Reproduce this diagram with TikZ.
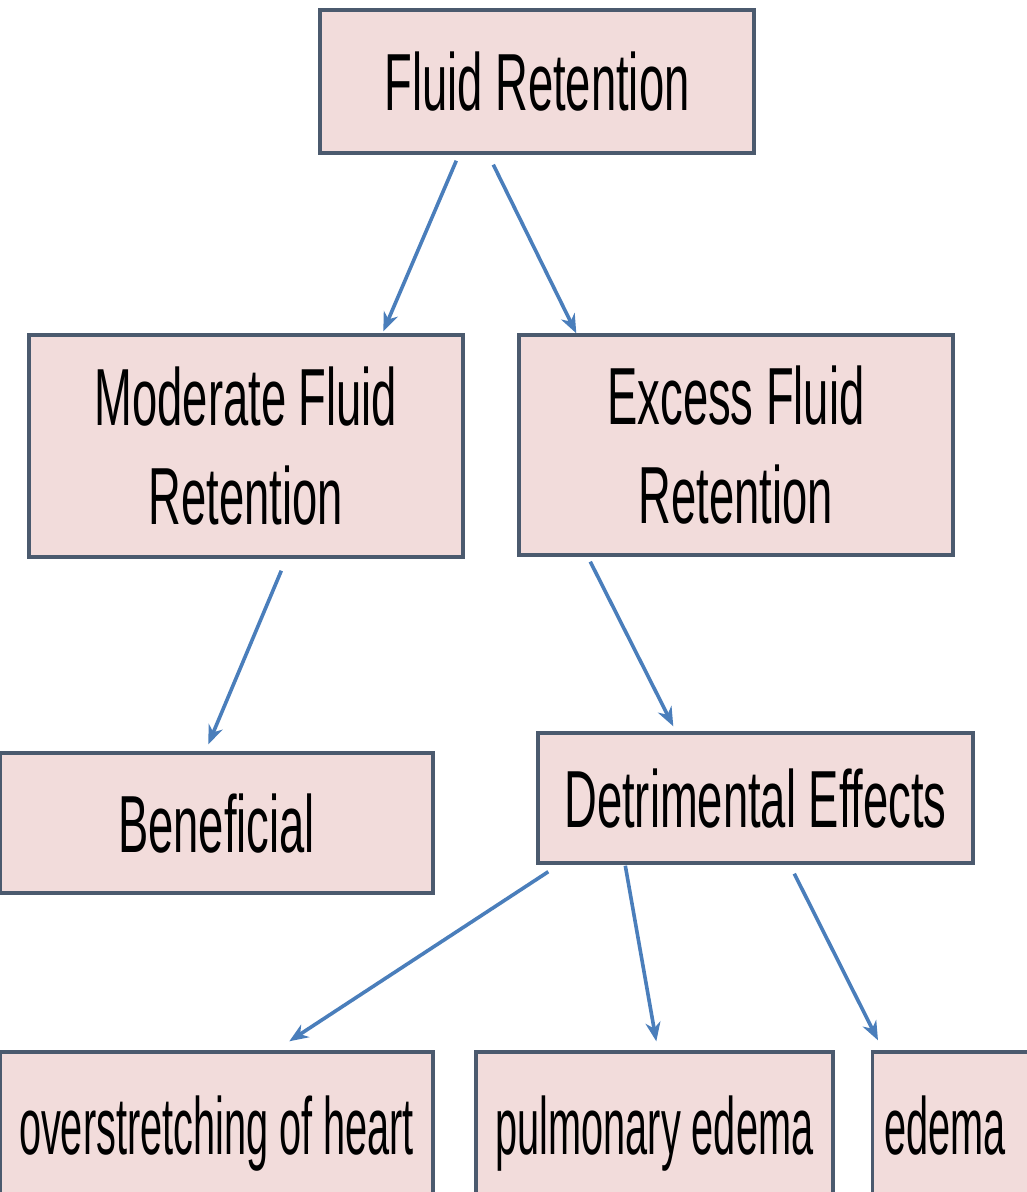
\documentclass[tikz,border=0pt]{standalone}
\usepackage{fontspec}
\setmainfont{Liberation Sans}
\newfontfamily\fa[FakeStretch=0.56]{Liberation Sans}
\newfontfamily\fb[FakeStretch=0.49]{Liberation Sans}
\usetikzlibrary{arrows.meta}
\definecolor{boxfill}{RGB}{242,220,219}
\definecolor{boxline}{RGB}{75,90,110}
\definecolor{arrowc}{RGB}{74,126,187}
\tikzset{
  bx/.style={draw=boxline, fill=boxfill, line width=3.4pt, inner sep=0pt, align=center,
    font=\fa\fontsize{81}{99}\selectfont},
  bxs/.style={bx, text depth=0pt},
  bxb/.style={bxs, font=\fb\fontsize{81}{99}\selectfont},
  arr/.style={draw=arrowc, line width=3.6pt, -{Stealth[length=19pt,width=15pt,inset=6pt]}}
}
\begin{document}
\begin{tikzpicture}[x=1pt,y=-1pt]
\useasboundingbox (0,0) rectangle (1027,1192);
\clip (0,0) rectangle (1027,1192);
\fill[white] (0,0) rectangle (1027,1192);

\node[bxs, minimum width=434pt, minimum height=143pt] (fr) at (537,81.5) {Fluid Retention};
\node[bx, minimum width=434pt, minimum height=222pt] (mod) at (246,446) {Moderate Fluid\\Retention};
\node[bx, minimum width=434pt, minimum height=220pt] (exc) at (736,445) {Excess Fluid\\Retention};
\node[bxs, minimum width=433pt, minimum height=140pt] (ben) at (216.5,823) {Beneficial};
\node[bxs, minimum width=435pt, minimum height=130pt] (det) at (755.5,798) {Detrimental Effects};
\node[bxb, minimum width=433pt, minimum height=146pt] (ovr) at (216.5,1125) {overstretching of heart};
\node[bxb, minimum width=357pt, minimum height=146pt] (pul) at (654.5,1125) {pulmonary edema};
\node[bxb, minimum height=146pt, text width=140pt, align=left, inner xsep=12pt, anchor=west] (ede) at (871,1125) {edema};

\draw[arr] ([xshift=138pt,yshift=-6pt]fr.south west) -- ([xshift=356pt,yshift=2pt]mod.north west);
\draw[arr] ([xshift=175pt,yshift=-10pt]fr.south west) -- ([xshift=59pt,yshift=0pt]exc.north west);
\draw[arr] ([xshift=254pt,yshift=-12pt]mod.south west) -- ([xshift=210pt,yshift=7pt]ben.north west);
\draw[arr] ([xshift=73pt,yshift=-5pt]exc.south west) -- ([xshift=137pt,yshift=5pt]det.north west);
\draw[arr] ([xshift=12pt,yshift=-7pt]det.south west) -- ([xshift=291pt,yshift=9pt]ovr.north west);
\draw[arr] ([xshift=89pt,yshift=-1pt]det.south west) -- ([xshift=182pt,yshift=9pt]pul.north west);
\draw[arr] ([xshift=258pt,yshift=-9pt]det.south west) -- ([xshift=7pt,yshift=10pt]ede.north west);
\end{tikzpicture}
\end{document}
